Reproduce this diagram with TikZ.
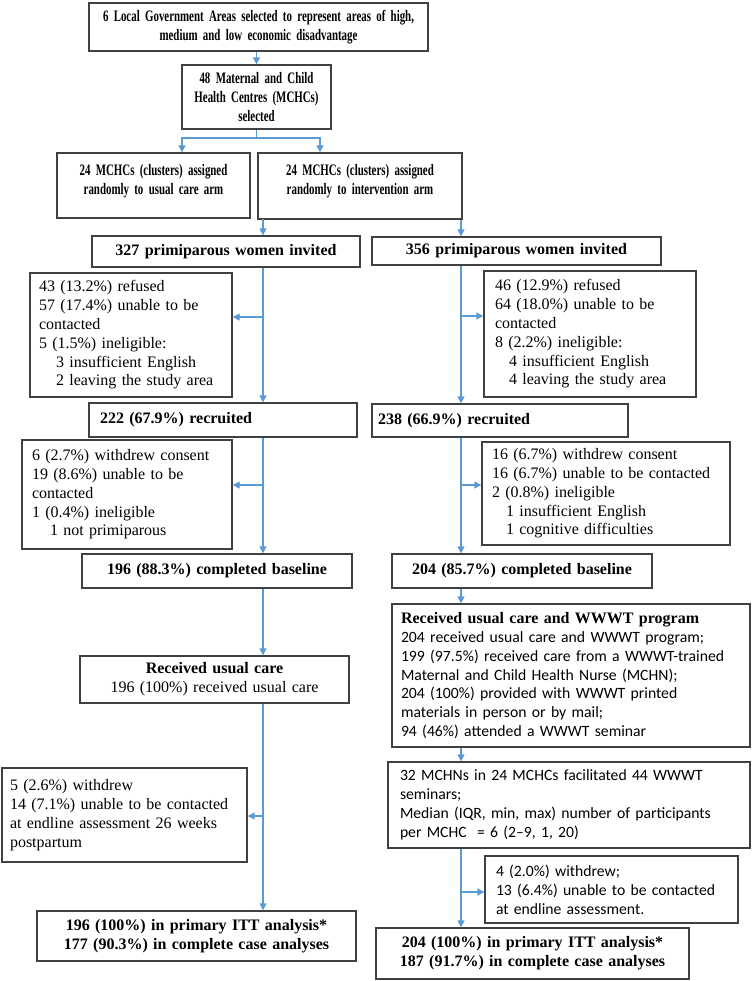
\documentclass[tikz,border=0pt]{standalone}
\usepackage{fontspec}
\setmainfont{Liberation Serif}
\newfontfamily\narrowserif[FakeStretch=0.68]{Liberation Serif}
\newfontfamily\calibri{Carlito}
\usetikzlibrary{arrows.meta}

\definecolor{linkblue}{RGB}{91,155,213}
\definecolor{boxgray}{RGB}{64,64,64}
\newcommand\txtsize{\fontsize{16}{18.8}\selectfont}
\newcommand\sanssize{\calibri\fontsize{15.7}{18.9}\selectfont}

\tikzset{
  box/.style={draw=boxgray, line width=1.3pt, rectangle, inner ysep=0pt, font=\txtsize},
  headbox/.style={box, align=center, font=\bfseries\txtsize},
  narrowbox/.style={box, align=center, font=\narrowserif\bfseries\txtsize},
  notebox/.style={box, align=left},
  link/.style={draw=linkblue, line width=1.3pt},
  arr/.style={link, -{Triangle[length=7pt,width=7pt]}}
}

\begin{document}
\begin{tikzpicture}[x=1pt,y=-1pt]
\useasboundingbox (0,0) rectangle (752,981);

% selection of areas and centres
\node[narrowbox, text width=331pt, inner xsep=4pt, minimum height=48pt] (lga) at (258.5,27)
  {6 Local Government Areas selected to represent areas of high,\\medium and low economic disadvantage};
\node[narrowbox, text width=141pt, inner xsep=4pt, minimum height=64pt] (mchc) at (256.5,97)
  {48 Maternal and Child\\Health Centres (MCHCs)\\selected};
\node[narrowbox, text width=185pt, inner xsep=4pt, minimum height=65pt] (armL) at (153.5,185.5)
  {24 MCHCs (clusters) assigned\\randomly to usual care arm\\[-6pt]\mbox{}};
\node[narrowbox, text width=196pt, inner xsep=4pt, minimum height=66pt] (armR) at (360,186)
  {24 MCHCs (clusters) assigned\\randomly to intervention arm\\[-6pt]\mbox{}};

% usual care arm
\node[headbox, text width=260pt, inner xsep=4pt, minimum height=31pt] (invL) at (226,251.5)
  {327 primiparous women invited};
\node[notebox, text width=184pt, inner xsep=9pt, minimum height=124pt] (exL) at (131,335)
  {43 (13.2\%) refused\\57 (17.4\%) unable to be\\contacted\\5 (1.5\%) ineligible:\\
   \hspace*{17pt}3 insufficient English\\\hspace*{17pt}2 leaving the study area};
\node[notebox, font=\bfseries\txtsize, text width=246pt, inner xsep=11pt, minimum height=34pt] (recL) at (223,420)
  {222 (67.9\%) recruited};
\node[notebox, text width=190pt, inner xsep=10pt, minimum height=109pt] (exbL) at (127,494.5)
  {6 (2.7\%) withdrew consent\\19 (8.6\%) unable to be\\contacted\\1 (0.4\%) ineligible\\
   \hspace*{18pt}1 not primiparous};
\node[headbox, text width=262pt, inner xsep=4pt, minimum height=34pt] (baseL) at (217,571)
  {196 (88.3\%) completed baseline};
\node[box, align=center, text width=261pt, inner xsep=4pt, minimum height=47pt] (careL) at (214.5,679.5)
  {\textbf{Received usual care}\\196 (100\%) received usual care};
\node[notebox, text width=229pt, inner xsep=8pt, minimum height=94pt] (exeL) at (124.5,815)
  {5 (2.6\%) withdrew\\14 (7.1\%) unable to be contacted\\at endline assessment 26 weeks\\postpartum};
\node[headbox, text width=311pt, inner xsep=4pt, minimum height=50pt] (endL) at (196.5,936)
  {196 (100\%) in primary ITT analysis*\\177 (90.3\%) in complete case analyses};

% intervention arm
\node[headbox, text width=281pt, inner xsep=4pt, minimum height=28pt] (invR) at (516.5,251)
  {356 primiparous women invited};
\node[notebox, text width=190pt, inner xsep=11pt, minimum height=126pt] (exR) at (590,334)
  {46 (12.9\%) refused\\64 (18.0\%) unable to be\\contacted\\8 (2.2\%) ineligible:\\
   \hspace*{14pt}4 insufficient English\\\hspace*{14pt}4 leaving the study area};
\node[notebox, font=\bfseries\txtsize, text width=244pt, inner xsep=6pt, minimum height=33pt] (recR) at (500,420.5)
  {238 (66.9\%) recruited};
\node[notebox, text width=228pt, inner xsep=10pt, minimum height=103pt] (exbR) at (606,493.5)
  {16 (6.7\%) withdrew consent\\16 (6.7\%) unable to be contacted\\2 (0.8\%) ineligible\\
   \hspace*{14pt}1 insufficient English\\\hspace*{14pt}1 cognitive difficulties};
\node[headbox, text width=252pt, inner xsep=4pt, minimum height=34pt] (baseR) at (522,571)
  {204 (85.7\%) completed baseline};
\node[notebox, text width=340pt, inner xsep=9pt, minimum height=143pt] (wwwt) at (571,675.5)
  {\textbf{Received usual care and WWWT program}\\\sanssize
   204 received usual care and WWWT program;\\
   199 (97.5\%) received care from a WWWT-trained\\
   Maternal and Child Health Nurse (MCHN);\\
   204 (100\%) provided with WWWT printed\\
   materials in person or by mail;\\
   94 (46\%) attended a WWWT seminar};
\node[notebox, font=\sanssize, text width=338pt, inner xsep=12pt, minimum height=86pt] (mchn) at (569,805)
  {32 MCHNs in 24 MCHCs facilitated 44 WWWT\\seminars;\\
   Median (IQR, min, max) number of participants\\per MCHC~ = 6 (2–9, 1, 20)};
\node[notebox, font=\sanssize, text width=231pt, inner xsep=11pt, minimum height=67pt] (exeR) at (611.5,889.5)
  {4 (2.0\%) withdrew;\\13 (6.4\%) unable to be contacted\\at endline assessment.};
\node[headbox, text width=305pt, inner xsep=4pt, minimum height=51pt] (endR) at (532.5,953.5)
  {204 (100\%) in primary ITT analysis*\\187 (91.7\%) in complete case analyses};

% define spines and branch points
\coordinate (lspine) at (263,0);
\coordinate (rspine) at (461,0);
\coordinate (splitL) at (182,138);
\coordinate (splitR) at (320,138);
\coordinate (brL1) at (263,317);
\coordinate (brL2) at (263,485);
\coordinate (brL3) at (263,816);
\coordinate (brR1) at (461,316);
\coordinate (brR2) at (461,485);
\coordinate (brR3) at (461,892);

% draw arrows
\draw[arr] (lga.south -| mchc.north) -- (mchc.north);
\draw[arr] (mchc.south) |- (splitL) -- (splitL |- armL.north);
\draw[arr] (mchc.south) |- (splitR) -- (splitR |- armR.north);
\foreach \a/\b in {armL/invL, invL/recL, recL/baseL, baseL/careL, careL/endL}{
	\draw[arr] (\a.south -| lspine) -- (\b.north -| lspine);
}
\foreach \a/\b in {armR/invR, invR/recR, recR/baseR, baseR/wwwt, wwwt/mchn, mchn/endR}{
	\draw[arr] (\a.south -| rspine) -- (\b.north -| rspine);
}
% side exits
\foreach \p/\n in {brL1/exL, brL2/exbL, brL3/exeL}{
	\draw[arr] (\p) -- (\p -| \n.east);
}
\foreach \p/\n in {brR1/exR, brR2/exbR, brR3/exeR}{
	\draw[arr] (\p) -- (\p -| \n.west);
}
\end{tikzpicture}
\end{document}
